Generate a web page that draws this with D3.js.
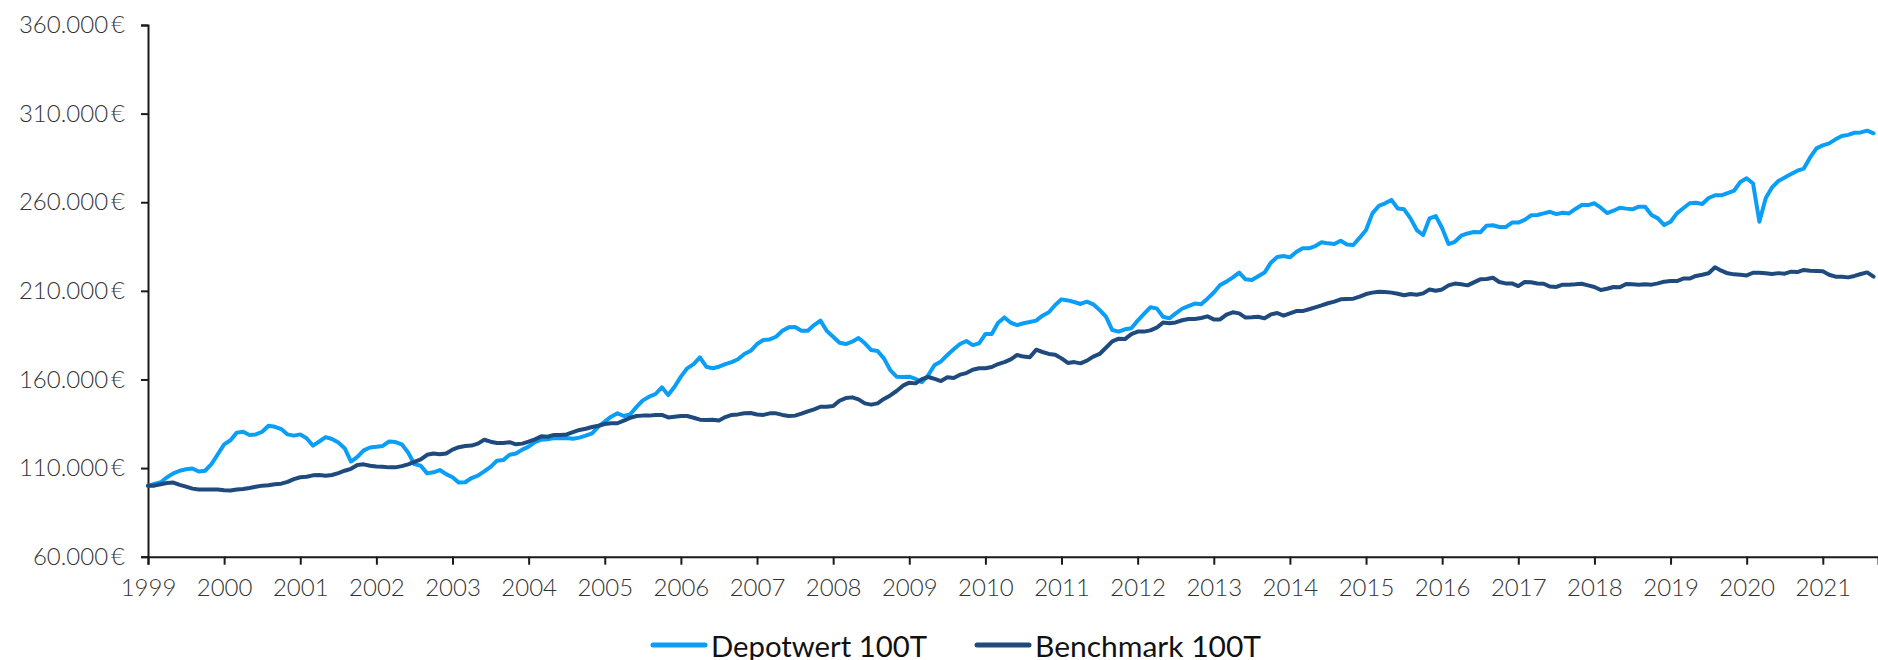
<!DOCTYPE html>
<html>
<head>
<meta charset="utf-8">
<script src="https://cdn.jsdelivr.net/npm/d3@7"></script>
<style>
  body { margin: 0; background: #ffffff; }
  svg { display: block; }
</style>
</head>
<body>
<script>
// monthly values in thousand euro, starting January 1999
var startYear = 1999;
var depotwert = [
  100.0, 101.0, 102.0, 104.8, 107.0, 108.5, 109.3, 109.8, 108.1, 108.5,
  112.2, 117.8, 123.4, 125.7, 130.0, 130.5, 128.7, 129.0, 130.5, 133.9,
  133.3, 132.0, 129.0, 128.3, 129.0, 126.8, 122.7, 125.0, 127.5, 126.4,
  124.4, 121.2, 113.7, 116.3, 120.0, 121.6, 122.0, 122.5, 125.0, 124.7,
  123.4, 118.8, 112.2, 111.3, 107.0, 107.6, 108.9, 106.6, 104.8, 101.8,
  102.0, 104.4, 105.7, 108.1, 110.7, 114.1, 114.5, 117.5, 118.2, 120.4,
  122.1, 124.6, 126.0, 126.2, 127.0, 126.8, 127.0, 126.6, 127.2, 128.3,
  129.6, 133.4, 136.2, 139.0, 140.9, 139.4, 140.3, 144.5, 148.2, 150.3,
  151.8, 155.6, 151.2, 155.9, 161.6, 166.3, 168.7, 172.5, 167.2, 166.3,
  167.2, 168.7, 169.8, 171.4, 174.4, 176.2, 180.0, 182.3, 182.6, 184.1,
  187.5, 189.4, 189.6, 187.5, 187.5, 190.7, 193.2, 187.3, 184.1, 180.7,
  180.0, 181.3, 183.4, 180.4, 176.6, 176.1, 171.9, 165.3, 161.6, 161.4,
  161.6, 160.3, 158.4, 162.5, 168.2, 170.2, 173.8, 177.0, 180.0, 181.7,
  179.4, 180.4, 185.6, 185.6, 192.0, 195.0, 192.0, 190.7, 191.7, 192.4,
  193.2, 196.0, 197.9, 202.0, 205.2, 204.6, 203.7, 202.6, 203.9, 202.4,
  199.2, 195.4, 187.9, 187.0, 188.3, 188.9, 193.2, 197.0, 200.7, 200.1,
  195.4, 194.5, 197.3, 199.9, 201.4, 202.8, 202.4, 205.6, 209.1, 213.3,
  215.2, 217.6, 220.3, 216.5, 216.1, 218.2, 220.3, 225.9, 229.1, 229.7,
  228.9, 231.9, 234.0, 234.0, 235.3, 237.4, 236.8, 236.4, 238.3, 236.2,
  235.9, 240.0, 244.3, 253.7, 257.9, 259.4, 261.3, 256.5, 256.0, 250.9,
  244.3, 241.5, 250.9, 252.2, 245.3, 236.4, 237.7, 241.1, 242.4, 243.2,
  243.0, 246.8, 247.0, 246.0, 246.0, 248.5, 248.5, 250.0, 252.6, 252.8,
  253.7, 254.6, 253.3, 254.1, 253.7, 256.2, 258.4, 258.4, 259.4, 256.9,
  253.9, 255.2, 256.9, 256.4, 256.0, 257.5, 257.5, 252.8, 250.9, 247.1,
  249.0, 253.7, 256.6, 259.4, 259.7, 259.0, 262.4, 263.9, 263.9, 265.2,
  266.5, 271.4, 273.5, 270.6, 249.0, 262.2, 268.4, 272.0, 273.9, 275.9,
  277.8, 279.0, 285.3, 290.4, 292.1, 293.2, 295.5, 297.4, 298.0, 299.2,
  299.4, 300.4, 298.9
];
var benchmark = [
  100.0, 100.1, 100.9, 101.6, 101.8, 100.5, 99.5, 98.4, 97.9, 97.9,
  97.9, 97.9, 97.5, 97.3, 97.9, 98.2, 98.8, 99.5, 100.1, 100.3,
  100.9, 101.2, 102.2, 103.8, 104.8, 105.1, 105.9, 106.1, 105.7, 106.1,
  107.2, 108.5, 109.6, 111.7, 112.1, 111.3, 110.9, 110.7, 110.4, 110.4,
  111.1, 112.1, 113.5, 114.9, 117.5, 118.2, 117.8, 118.2, 120.4, 121.8,
  122.5, 122.7, 123.8, 126.0, 124.9, 124.2, 124.2, 124.6, 123.4, 123.8,
  124.9, 126.2, 127.9, 127.7, 128.7, 128.7, 129.0, 130.3, 131.5, 132.2,
  133.2, 133.9, 134.9, 135.3, 135.3, 136.8, 138.3, 139.4, 139.6, 139.6,
  140.0, 140.0, 138.6, 139.0, 139.4, 139.4, 138.4, 137.3, 137.1, 137.3,
  136.9, 138.8, 140.0, 140.3, 140.9, 141.1, 140.2, 140.0, 140.9, 140.9,
  140.0, 139.4, 139.6, 140.7, 142.0, 143.1, 144.6, 144.6, 145.0, 148.0,
  149.5, 149.9, 148.8, 146.5, 145.8, 146.5, 149.0, 151.0, 153.5, 156.5,
  158.2, 157.8, 160.2, 161.4, 160.3, 159.1, 161.2, 160.8, 162.7, 163.6,
  165.5, 166.3, 166.3, 167.0, 168.7, 169.8, 171.3, 173.8, 172.9, 172.5,
  176.8, 175.5, 174.4, 174.0, 171.9, 169.3, 169.8, 169.1, 170.6, 172.9,
  174.4, 177.9, 181.5, 183.0, 182.8, 185.6, 187.0, 187.0, 187.7, 189.2,
  192.1, 191.7, 192.2, 193.4, 194.1, 194.1, 194.7, 195.6, 193.9, 193.9,
  196.6, 197.9, 197.3, 194.9, 195.1, 195.4, 194.5, 196.7, 197.5, 196.0,
  197.3, 198.6, 198.6, 199.6, 200.7, 201.8, 203.0, 203.9, 205.2, 205.4,
  205.6, 206.7, 208.2, 209.0, 209.5, 209.3, 209.0, 208.4, 207.5, 208.2,
  207.8, 208.6, 210.8, 210.1, 210.8, 213.1, 214.1, 213.7, 213.1, 214.8,
  216.5, 216.7, 217.4, 215.0, 214.2, 214.2, 212.7, 215.0, 214.8, 214.2,
  214.0, 212.4, 212.2, 213.5, 213.5, 213.7, 214.0, 213.1, 212.2, 210.5,
  211.2, 212.2, 212.0, 213.9, 213.7, 213.5, 213.7, 213.5, 214.2, 215.2,
  215.5, 215.5, 216.9, 216.9, 218.4, 219.1, 219.9, 223.3, 221.4, 219.9,
  219.3, 219.1, 218.7, 220.2, 220.2, 219.9, 219.5, 220.0, 219.7, 220.8,
  220.6, 221.8, 221.4, 221.2, 221.0, 219.1, 218.0, 218.0, 217.6, 218.4,
  219.5, 220.4, 218.0
];
var seriesNames = ["Depotwert 100T", "Benchmark 100T"];
var seriesColors = ["#0a9ef7", "#1f4a7d"];
var yTicks = [60000, 110000, 160000, 210000, 260000, 310000, 360000];
var xTicks = [1999, 2000, 2001, 2002, 2003, 2004, 2005, 2006, 2007, 2008, 2009,
              2010, 2011, 2012, 2013, 2014, 2015, 2016, 2017, 2018, 2019, 2020, 2021];

// size of the picture
var width = 1878;
var height = 660;

// plot area
var pad = { top: 25, bottom: 103.3, left: 148, right: 0 };

// german number format for the euro labels
var de = d3.formatLocale({ decimal: ",", thousands: ".", grouping: [3], currency: ["", "\u2009€"] });
var euro = de.format("$,.0f");

var svg = d3.select("body")
            .append("svg")
            .attr("width", width)
            .attr("height", height);

svg.append("rect")
   .attr("width", width)
   .attr("height", height)
   .attr("fill", "#ffffff");

// the last month is drawn a bit before the right border
var xScale = d3.scaleLinear()
               .domain([startYear, startYear + 272.7 / 12])
               .range([pad.left, width - pad.right]);
var yScale = d3.scaleLinear()
               .domain([60000, 360000])
               .range([height - pad.bottom, pad.top]);

// builds the point tables from the arrays
var series = [depotwert, benchmark].map(function(values, k){
    return {
        name: seriesNames[k],
        color: seriesColors[k],
        points: values.map(function(v, i){
            return { x: startYear + i / 12, y: v * 1000 };
        })
    };
});

// axes
var yAxis = d3.axisLeft(yScale)
              .tickValues(yTicks)
              .tickFormat(euro)
              .tickSizeOuter(0)
              .tickSize(7)
              .tickPadding(16);
var xAxis = d3.axisBottom(xScale)
              .tickValues(xTicks)
              .tickFormat(d3.format("d"))
              .tickSizeOuter(0)
              .tickSize(8)
              .tickPadding(14);

var gy = svg.append("g")
            .attr("transform", "translate(" + pad.left + ",0)")
            .call(yAxis);
var gx = svg.append("g")
            .attr("transform", "translate(0," + (height - pad.bottom) + ")")
            .call(xAxis);

[gx, gy].forEach(function(g){
    g.selectAll("path, line")
     .attr("stroke", "#1a1a1a")
     .attr("stroke-width", 2);
    g.selectAll("text")
     .attr("fill", "#333333")
     .style("font-family", "Lato, 'Open Sans', sans-serif")
     .style("font-weight", 300)
     .style("font-size", "24px");
});

// the two lines
var line = d3.line()
             .x(function(d){ return xScale(d.x); })
             .y(function(d){ return yScale(d.y); });

svg.selectAll(".series")
   .data(series)
   .enter()
   .append("path")
   .attr("class", "series")
   .attr("d", function(d){ return line(d.points); })
   .attr("fill", "none")
   .attr("stroke", function(d){ return d.color; })
   .attr("stroke-width", 4)
   .attr("stroke-linejoin", "round")
   .attr("stroke-linecap", "round");

// legend below the axis, the text runs into the bottom border
var legendX = [653, 977];
var legendW = [216, 226];
var legend = svg.selectAll(".legend")
                .data(series)
                .enter()
                .append("g")
                .attr("class", "legend")
                .attr("transform", function(d, i){ return "translate(" + legendX[i] + ",645)"; });

legend.append("line")
      .attr("x1", 0)
      .attr("x2", 52)
      .attr("stroke", function(d){ return d.color; })
      .attr("stroke-width", 5)
      .attr("stroke-linecap", "round");

legend.append("text")
      .attr("x", 58)
      .attr("y", 11.7)
      .attr("textLength", function(d, i){ return legendW[i]; })
      .attr("lengthAdjust", "spacingAndGlyphs")
      .attr("fill", "#111111")
      .style("font-family", "Lato, 'Open Sans', sans-serif")
      .style("font-size", "29px")
      .text(function(d){ return d.name; });
</script>
</body>
</html>
